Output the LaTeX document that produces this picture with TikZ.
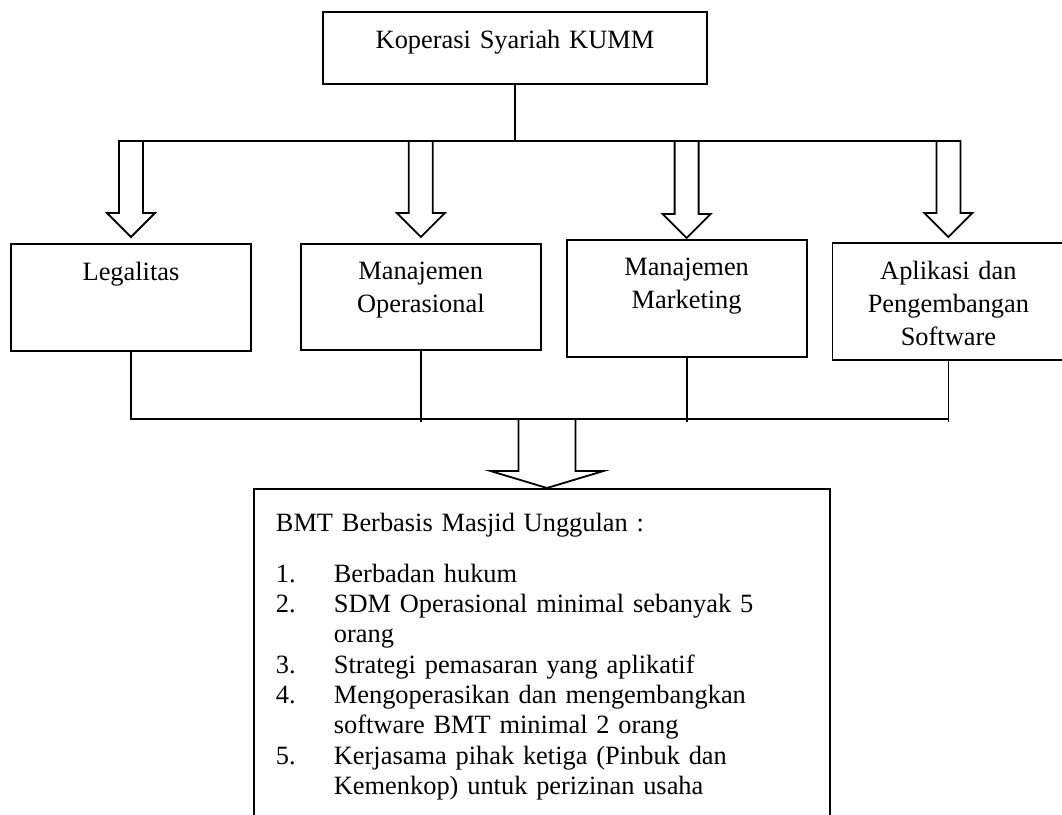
\documentclass[tikz,border=0pt]{standalone}
\usepackage{fontspec}
\setmainfont{Liberation Serif}
\usetikzlibrary{positioning,calc}

% panah blok: #1 pangkal, #2 node tujuan, #3 setengah batang, #4 setengah kepala, #5 panjang kepala, #6 celah
\newcommand{\panahblok}[6]{%
  \draw[garis] ($(#1)+(-#3,0)$)
    -- ($(#1 |- #2.north)+(-#3,-#5-#6)$) -- ($(#1 |- #2.north)+(-#4,-#5-#6)$)
    -- ($(#1 |- #2.north)+(0,-#6)$)
    -- ($(#1 |- #2.north)+(#4,-#5-#6)$) -- ($(#1 |- #2.north)+(#3,-#5-#6)$)
    -- ($(#1)+(#3,0)$) -- cycle;}
\newcommand{\butir}[1]{\makebox[58pt][l]{#1}}
\newcommand{\lanjut}{\hspace*{58pt}}

\begin{document}
\begin{tikzpicture}[
        x=1pt, y=-1pt,
        garis/.style={line width=1.8pt, line join=miter},
        kotak/.style={draw, line width=1.8pt, align=center, inner xsep=4pt, inner ysep=18pt, text width=232pt, font=\fontsize{26.4}{33}\selectfont},
        daftar/.style={draw, line width=1.8pt, align=left, inner xsep=22pt, inner ysep=24pt, text width=532pt, font=\fontsize{26.4}{30.3}\selectfont}
    ]
        \useasboundingbox (0,0) rectangle (1062,814);
        \clip (0,0) rectangle (1062,814);

        \node[kotak, anchor=north, text width=376pt, text depth=18pt] (kumm) at (515,11) {Koperasi Syariah KUMM};
        \coordinate (bus) at (515,141);
        \coordinate (bus2) at (515,419);

        \node[kotak, anchor=north, text depth=53pt] (legal) at (131,243) {Legalitas};
        \node[kotak, right=48pt of legal.north east, anchor=north west, text depth=53pt] (opr) {Manajemen\\Operasional};
        \node[kotak, right=24pt of opr.north east, anchor=north west, yshift=4pt, text depth=64pt] (mkt) {Manajemen\\Marketing};
        \node[kotak, right=24pt of mkt.north east, anchor=north west, yshift=-3pt, text width=224pt, text depth=63pt] (apl) {Aplikasi dan\\Pengembangan\\Software};

        \node[daftar, anchor=north west, text depth=300pt] (bmt) at (253,488) {BMT Berbasis Masjid Unggulan :\\[20.7pt]
            \butir{1.}Berbadan hukum\\
            \butir{2.}SDM Operasional minimal sebanyak 5\\
            \lanjut orang\\
            \butir{3.}Strategi pemasaran yang aplikatif\\
            \butir{4.}Mengoperasikan dan mengembangkan\\
            \lanjut software BMT minimal 2 orang\\
            \butir{5.}Kerjasama pihak ketiga (Pinbuk dan\\
            \lanjut Kemenkop) untuk perizinan usaha};

        % dari koperasi ke empat bidang
        \draw[garis] (kumm.south) -- (kumm.south |- bus);
        \draw[garis] ($(legal.north |- bus)+(-12,0)$) -- ($(apl.north |- bus)+(12,0)$);
        \foreach \k/\c in {legal/6, opr/6, mkt/1, apl/5}{
            \coordinate (p-\k) at (\k.north |- bus);
            \panahblok{p-\k}{\k}{12}{24}{24}{\c}
        }

        % dari empat bidang ke BMT
        \draw[garis] (legal.south) -- (legal.south |- bus2) -- (apl.south |- bus2);
        \foreach \k in {opr, mkt, apl}
            \draw[garis] (\k.south) -- ($(\k.south |- bus2)+(0,3)$);
        \coordinate (p-bmt) at (547,419);
        \panahblok{p-bmt}{bmt}{28.5}{56.5}{17}{0}
\end{tikzpicture}
\end{document}
